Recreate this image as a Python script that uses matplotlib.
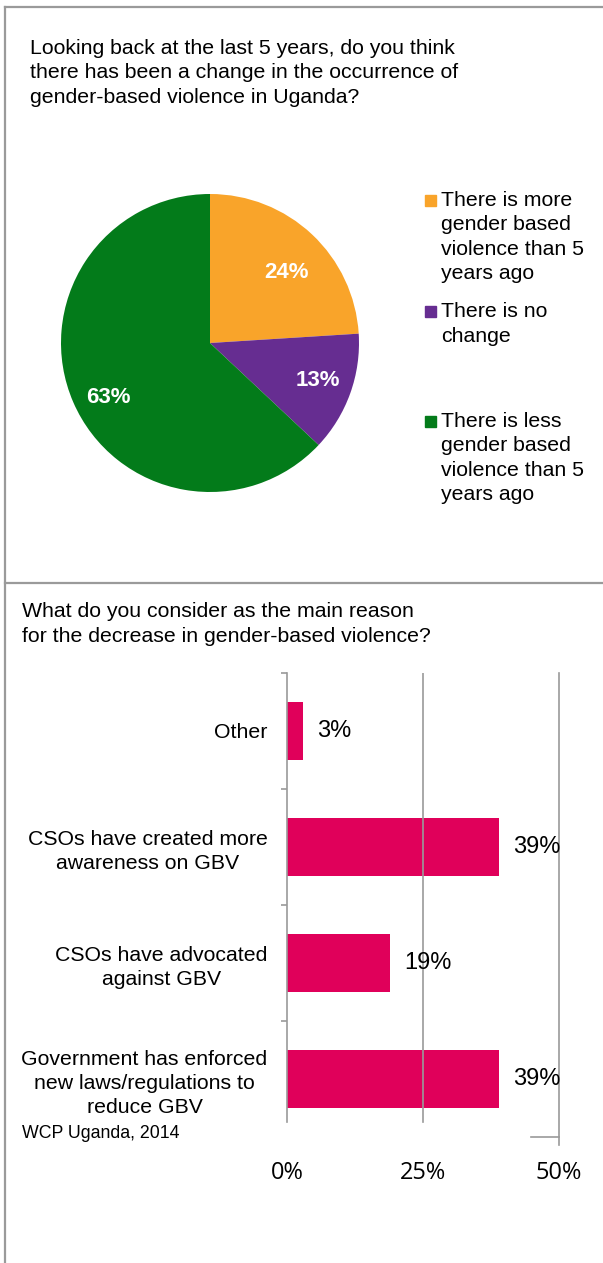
import matplotlib
matplotlib.use("Agg")
import matplotlib.pyplot as plt
from matplotlib.lines import Line2D
from matplotlib.patches import Rectangle

# pie data
pie_labels = ["There is more\ngender based\nviolence than 5\nyears ago",
              "There is no\nchange",
              "There is less\ngender based\nviolence than 5\nyears ago"]
pie_values = [24, 13, 63]
pie_colors = ["#F9A42A", "#662D91", "#037B1A"]

# bar data (top to bottom)
bar_cats = ["Other",
            "CSOs have created more\nawareness on GBV",
            "CSOs have advocated\nagainst GBV",
            "Government has enforced\nnew laws/regulations to\nreduce GBV"]
bar_values = [3, 39, 19, 39]
x_ticks = [0, 25, 50]
x_ticklabels = ["0%", "25%", "50%"]

W, H = 603, 1263
plt.rcParams['font.family'] = ['Liberation Sans', 'DejaVu Sans']
fig = plt.figure(figsize=(W / 100, H / 100), dpi=100)
fig.patch.set_facecolor("white")

def fx(x):
    return x / W

def fy(y):
    return 1 - y / H

FS = 15.3
LS = 1.35
grey = "#9A9A9A"

# frame lines
for xs, ys in [([5, W], [7, 7]), ([5, 5], [7, H]), ([5, W], [583, 583])]:
    fig.add_artist(Line2D([fx(v) for v in xs], [fy(v) for v in ys],
                          color=grey, lw=1.6, transform=fig.transFigure))

# ---- top panel: pie ----
fig.text(fx(30), fy(73), "Looking back at the last 5 years, do you think\n"
         "there has been a change in the occurrence of\n"
         "gender-based violence in Uganda?",
         fontsize=FS, va="center", ha="left", linespacing=LS)

ax1 = fig.add_axes([fx(61), fy(492), 298 / W, 298 / H])
wedges, texts, autotexts = ax1.pie(
    pie_values, colors=pie_colors, startangle=90, counterclock=False,
    autopct="%.0f%%", pctdistance=0.74,
    textprops=dict(color="white", fontsize=16, fontweight="bold"))
# small nudges to match label placement
nudges = [(0.01, -0.065), (0.03, 0.0), (0.0, -0.07)]
for t, (dx, dy) in zip(autotexts, nudges):
    x, y = t.get_position()
    t.set_position((x + dx, y + dy))
ax1.set_xlim(-1, 1)
ax1.set_ylim(-1, 1)
ax1.set_aspect("equal")
ax1.axis("off")

# legend
leg_y = [237, 324, 458]
leg_first = [200, 311, 421]
for lab, col, cy, sy in zip(pie_labels, pie_colors, leg_y, leg_first):
    fig.add_artist(Rectangle((fx(425), fy(sy + 5.5)), 11 / W, 11 / H,
                             color=col, transform=fig.transFigure))
    fig.text(fx(441), fy(cy), lab, fontsize=FS, va="center", ha="left",
             linespacing=LS)

# ---- bottom panel: bars ----
fig.text(fx(22), fy(624), "What do you consider as the main reason\n"
         "for the decrease in gender-based violence?",
         fontsize=FS, va="center", ha="left", linespacing=LS)

ax2 = fig.add_axes([fx(287), fy(1137), 272 / W, 464 / H])
ypos = list(range(len(bar_cats)))
ax2.barh(ypos, bar_values, height=0.5, color="#E0005A")
for y, v in zip(ypos, bar_values):
    ax2.text(v + 2.6, y, f"{v}%", va="center", ha="left", fontsize=17)

ax2.set_xlim(0, 50)
ax2.set_ylim(3.5, -0.5)
ax2.set_yticks(ypos)
ax2.set_yticklabels(bar_cats, fontsize=FS, ha="right", multialignment="center",
                    linespacing=LS)
ax2.set_yticks([-0.5, 0.5, 1.5, 2.5], minor=True)
ax2.tick_params(axis="y", which="major", length=0, pad=14)
ax2.tick_params(axis="y", which="minor", length=4.5, width=1.2, color=grey)
ax2.set_xticks(x_ticks)
ax2.set_xticklabels(x_ticklabels, fontsize=17, family="Open Sans")
ax2.tick_params(axis="x", length=0, pad=17)

for s in ["top", "right", "bottom"]:
    ax2.spines[s].set_visible(False)
ax2.spines["left"].set_color(grey)
ax2.spines["left"].set_linewidth(1.2)
ax2.spines["left"].set_bounds(-0.5, 3.37)

ax2.axvline(25, ymin=0.032, ymax=1, color=grey, lw=1.2)
ax2.axvline(50, ymin=-8 / 464, ymax=1, color=grey, lw=1.2, clip_on=False)
ax2.axhline(3.5, xmin=0.897, xmax=1.0, color=grey, lw=1.2, clip_on=False)

fig.text(fx(22), fy(1133), "WCP Uganda, 2014", fontsize=12.8, va="center", ha="left")

fig.savefig("out.png", dpi=100)
